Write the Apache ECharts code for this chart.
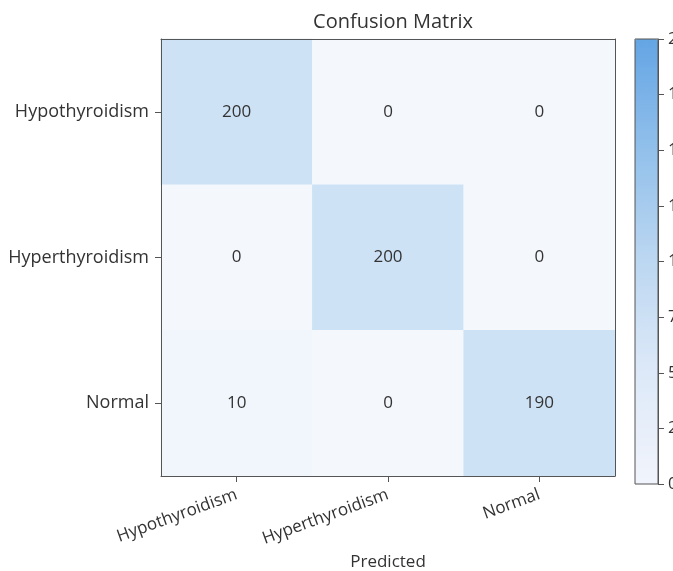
<!DOCTYPE html>
<html>
<head>
<meta charset="utf-8">
<script src="https://cdn.jsdelivr.net/npm/echarts@6/dist/echarts.min.js"></script>
<style>
html,body{margin:0;padding:0;background:#fff;}
#chart{width:673px;height:571px;}
</style>
</head>
<body>
<div id="chart"></div>
<script>
// classes, same order on both axes
const classes=['Hypothyroidism','Hyperthyroidism','Normal'];
// rows = actual, cols = predicted
const rowHypo=[200,0,0];
const rowHyper=[0,200,0];
const rowNormal=[10,0,190];
const barTicks=[0,25,50,75,100,125,150,175,200];

const FONT='"Open Sans", sans-serif';
var rows=[rowHypo,rowHyper,rowNormal];
var cells=[];
for(var r=0;r<rows.length;r++) {
    for(var c=0;c<rows[r].length;c++) {
        cells.push([c,r,rows[r][c]]);
    }
}

var chart=echarts.init(document.getElementById('chart'),null,{renderer:'canvas'});
chart.setOption({
    animation:false,
    title:{text:'Confusion Matrix',left:388,top:7,textAlign:'center',
        textStyle:{fontFamily:FONT,fontSize:20,fontWeight:'normal',color:'#333'}},
    grid:[
        {left:161,top:39,width:454,height:437,outerBoundsMode:'none',containLabel:false},
        {left:635,top:39,width:23,height:445,outerBoundsMode:'none',containLabel:false,
         show:true,borderColor:'#555',borderWidth:1,backgroundColor:'transparent',z:10}
    ],
    xAxis:[
        {type:'category',data:classes,gridIndex:0,position:'bottom',
         name:'Predicted',nameLocation:'middle',nameGap:77,
         nameTextStyle:{fontFamily:FONT,fontSize:17,color:'#333'},
         axisLine:{show:true,lineStyle:{color:'#555'}},
         axisTick:{show:true,alignWithLabel:true,length:6,lineStyle:{color:'#555'}},
         axisLabel:{rotate:20,fontFamily:FONT,fontSize:17,color:'#333',margin:18},
         splitLine:{show:false},splitArea:{show:false},z:5},
        {type:'category',data:classes,gridIndex:0,position:'top',
         axisLine:{show:true,lineStyle:{color:'#555'}},axisTick:{show:false},
         axisLabel:{show:false},splitLine:{show:false},z:5},
        {type:'value',gridIndex:1,show:false,min:0,max:1}
    ],
    yAxis:[
        {type:'category',data:classes,gridIndex:0,inverse:true,position:'left',
         axisLine:{show:true,lineStyle:{color:'#555'}},
         axisTick:{show:true,alignWithLabel:true,length:6,lineStyle:{color:'#555'}},
         axisLabel:{fontFamily:FONT,fontSize:18,color:'#333',margin:12},
         splitLine:{show:false},splitArea:{show:false},z:5},
        {type:'category',data:classes,gridIndex:0,inverse:true,position:'right',
         axisLine:{show:true,lineStyle:{color:'#555'}},axisTick:{show:false},
         axisLabel:{show:false},splitLine:{show:false},z:5},
        {type:'value',gridIndex:1,position:'right',min:0,max:200,interval:25,
         axisLine:{show:true,onZero:false,lineStyle:{color:'#555'}},
         axisTick:{show:true,length:6,lineStyle:{color:'#555'}},
         axisLabel:{fontFamily:FONT,fontSize:17,color:'#333',margin:10},
         splitLine:{show:false},z:5}
    ],
    visualMap:{
        type:'continuous',min:0,max:200,seriesIndex:0,calculable:false,
        orient:'vertical',left:635,top:39,padding:0,itemWidth:23,itemHeight:445,
        text:['',''],showLabel:false,
        inRange:{color:['#f4f8fd','#e0ecf9','#d8e7f7','#d2e4f6','#cde2f5']},
        controller:{inRange:{color:['#f1f4fc','#dde9f8','#bcd7f1','#92c0eb','#64a5e4']}}
    },
    series:[{
        type:'heatmap',xAxisIndex:0,yAxisIndex:0,data:cells,
        label:{show:true,fontFamily:FONT,fontSize:17,color:'#333'},
        itemStyle:{borderWidth:0},
        emphasis:{disabled:true}
    }]
});
</script>
</body>
</html>
